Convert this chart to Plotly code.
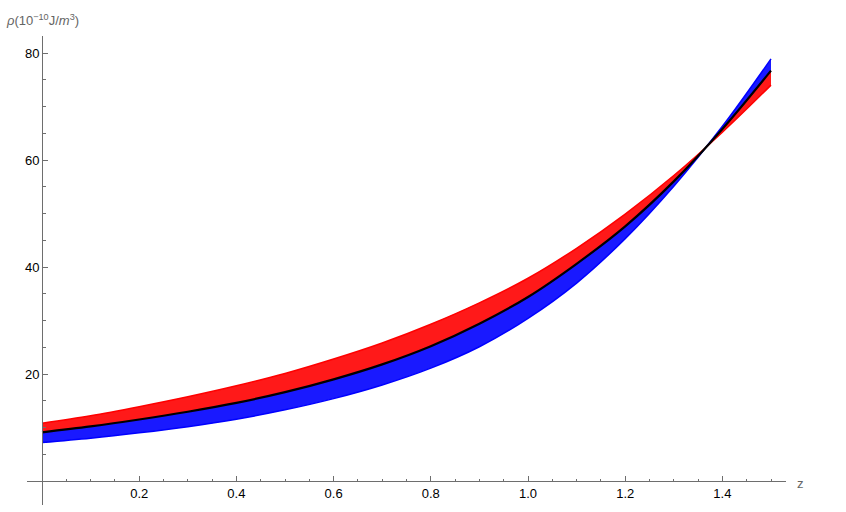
import plotly.graph_objects as go

# redshift grid
z = [0.0, 0.1, 0.2, 0.3, 0.4, 0.5, 0.6, 0.7, 0.8, 0.9, 1.0, 1.1, 1.2, 1.3, 1.4, 1.5]
# central (black) curve
rho_black = [9.1, 10.2, 11.5, 12.95, 14.6, 16.6, 19.0, 21.8, 25.2, 29.4, 34.4, 40.6, 47.6, 56.0, 65.8, 76.7]
# outer edge of red family
rho_red_outer = [10.8, 12.2, 13.9, 15.75, 17.8, 20.1, 22.8, 25.8, 29.3, 33.3, 37.9, 43.5, 49.9, 57.1, 65.2, 74.0]
# outer edge of blue family
rho_blue_outer = [7.2, 8.0, 9.0, 10.15, 11.55, 13.3, 15.4, 17.95, 21.1, 25.1, 30.4, 37.0, 45.3, 55.1, 66.3, 78.9]

x_ticks = [0.2, 0.4, 0.6, 0.8, 1.0, 1.2, 1.4]
x_tick_text = ["0.2", "0.4", "0.6", "0.8", "1.0", "1.2", "1.4"]
x_minor = [0.05, 0.1, 0.15, 0.25, 0.3, 0.35, 0.45, 0.5, 0.55, 0.65, 0.7, 0.75, 0.85, 0.9, 0.95,
           1.05, 1.1, 1.15, 1.25, 1.3, 1.35, 1.45, 1.5]
y_ticks = [20, 40, 60, 80]
y_tick_text = ["20", "40", "60", "80"]
y_minor = [5, 10, 15, 25, 30, 35, 45, 50, 55, 65, 70, 75]

RED = "rgb(255,0,0)"
BLUE = "rgb(0,0,255)"
AXIS = "rgb(110,110,110)"
FONT = "Liberation Sans, Arial, sans-serif"

fig = go.Figure()
# blue family band
fig.add_trace(go.Scatter(x=z, y=rho_black, mode="lines", line=dict(width=0, color=BLUE, shape="spline"),
                         showlegend=False, hoverinfo="skip"))
fig.add_trace(go.Scatter(x=z, y=rho_blue_outer, mode="lines", line=dict(width=1.5, color=BLUE, shape="spline"),
                         fill="tonexty", fillcolor="rgba(25,25,255,1)", showlegend=False))
# red family band
fig.add_trace(go.Scatter(x=z, y=rho_black, mode="lines", line=dict(width=0, color=RED, shape="spline"),
                         showlegend=False, hoverinfo="skip"))
fig.add_trace(go.Scatter(x=z, y=rho_red_outer, mode="lines", line=dict(width=1.5, color=RED, shape="spline"),
                         fill="tonexty", fillcolor="rgba(255,25,25,1)", showlegend=False))
# central curve
fig.add_trace(go.Scatter(x=z, y=rho_black, mode="lines", line=dict(width=2.2, color="black", shape="spline"),
                         showlegend=False))

L, R, T, B = 27, 60, 36, 7
W, H = 846, 512
pw, ph = W - L - R, H - T - B
x_range = [-15 / 486, 1.5 + 15 / 486]
y_range = [-24 / 5.35, 445 / 5.35]

fig.update_layout(
    template="none",
    width=W, height=H,
    margin=dict(l=L, r=R, t=T, b=B, autoexpand=False),
    paper_bgcolor="white", plot_bgcolor="white",
    font=dict(family=FONT, size=13, color="black"),
    xaxis=dict(range=x_range, showgrid=False, zeroline=False, showline=True, linecolor=AXIS, linewidth=1,
               anchor="free", position=24 / ph, automargin=False,
               tickmode="array", tickvals=x_ticks, ticktext=x_tick_text,
               ticks="inside", ticklen=5, tickcolor=AXIS, tickwidth=1,
               minor=dict(tickmode="array", tickvals=x_minor, ticks="inside", ticklen=2.5, tickcolor=AXIS,
                          showgrid=False),
               tickfont=dict(size=13, color="black", family=FONT)),
    yaxis=dict(range=y_range, showgrid=False, zeroline=False, showline=True, linecolor=AXIS, linewidth=1,
               anchor="free", position=15 / pw, automargin=False,
               tickmode="array", tickvals=y_ticks, ticktext=y_tick_text,
               ticks="inside", ticklen=5, tickcolor=AXIS, tickwidth=1,
               minor=dict(tickmode="array", tickvals=y_minor, ticks="inside", ticklen=2.5, tickcolor=AXIS,
                          showgrid=False),
               tickfont=dict(size=13, color="black", family=FONT)),
    annotations=[
        dict(text="z", xref="paper", yref="paper", x=(800 - L) / pw, y=(H - 483 - B) / ph,
             showarrow=False, font=dict(size=13, color="rgb(100,100,100)", family=FONT),
             xanchor="center", yanchor="middle"),
        dict(text="<i>ρ</i>(10<sup>−10</sup>J/<i>m</i><sup>3</sup>)", xref="paper", yref="paper",
             x=(4 - L) / pw, y=(H - 20 - B) / ph, showarrow=False,
             font=dict(size=13, color="rgb(100,100,100)", family=FONT),
             xanchor="left", yanchor="middle"),
    ],
)

fig.write_html("out.html", config={"displayModeBar": False},
               post_script="document.body.style.margin='0';document.body.style.overflow='hidden';")
